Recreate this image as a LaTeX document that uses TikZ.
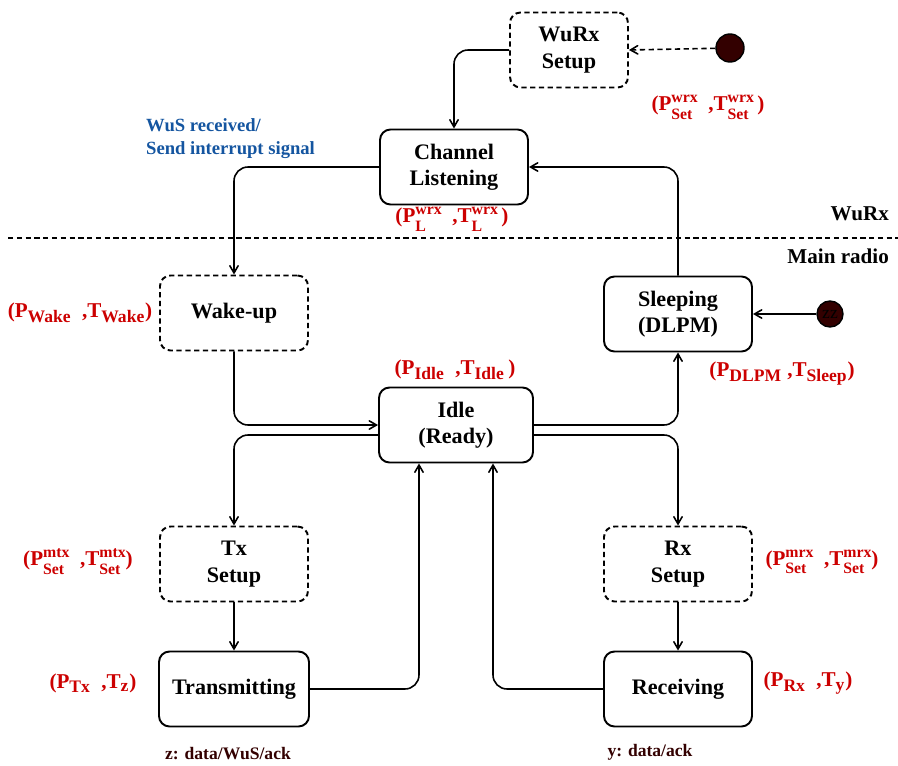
\documentclass[tikz,border=0pt]{standalone}
\usepackage{fontspec}
\setmainfont{Liberation Serif}
\usetikzlibrary{shapes,arrows,positioning}

\definecolor{lblred}{RGB}{204,0,0}
\definecolor{msgblue}{RGB}{20,85,160}
\definecolor{darkdot}{RGB}{51,0,0}

% power / time labels
\newcommand{\supsub}[3]{#1\raisebox{-0.42em}{\shortstack[l]{\small #2\\[0.5pt]\small #3}}}
\newcommand{\subonly}[2]{#1$_{\mbox{\normalsize #2}}$}

\begin{document}
\begin{tikzpicture}[
    state/.style={rectangle, draw, rounded corners=6pt, line width=1.1pt, minimum width=2.96cm, minimum height=1.5cm, align=center, font=\fontsize{12.6}{15}\selectfont\bfseries},
    setupbox/.style={state, dash pattern=on 3pt off 2pt},
    lbl/.style={text=lblred, font=\large\bfseries},
    link/.style={->, >=angle 60, line width=0.9pt, rounded corners=8pt},
    dot/.style={circle, draw, fill=darkdot, line width=0.8pt, inner sep=0pt}
]
    \useasboundingbox (0,0) rectangle (17.96,-15.30);

    % WuRx part
    \node[setupbox, minimum width=2.36cm] (wurx) at (11.38,-1.00) {WuRx \\ Setup};
    \node[dot, minimum size=0.56cm] (start) at (14.60,-0.96) {};
    \node[state] (listen) at (9.08,-3.34) {Channel \\ Listening};

    \node[lbl] (lblwurx) at (14.16,-2.14) {(\supsub{P}{wrx}{Set}\ \ ,\supsub{T}{wrx}{Set}\,)};
    \node[lbl] (lbllisten) at (9.04,-4.38) {(\supsub{P}{wrx}{L}\ \ ,\supsub{T}{wrx}{L}\,)};
    \node[anchor=west, align=left, text=msgblue, font=\fontsize{10.6}{13}\selectfont\bfseries] (wus) at (2.80,-2.78) {WuS received/ \\ Send interrupt signal};

    % border between the two radios
    \draw[line width=0.8pt, dash pattern=on 3pt off 2pt] (0.16,-4.76) coordinate (sepL) -- (17.96,-4.76) coordinate (sepR);
    \node[font=\large\bfseries, anchor=east] (wurxtxt) at (17.90,-4.28) {WuRx};
    \node[font=\large\bfseries, anchor=east] (maintxt) at (17.90,-5.12) {Main radio};

    % main radio
    \node[setupbox] (wake) at (4.68,-6.26) {Wake-up};
    \node[state] (sleep) at (13.56,-6.28) {Sleeping \\ (DLPM)};
    \node[dot, minimum size=0.52cm, font=\normalsize] (zz) at (16.60,-6.28) {zz};
    \node[state, minimum width=3.08cm] (idle) at (9.12,-8.50) {Idle \\ (Ready)};
    \node[setupbox] (txset) at (4.68,-11.28) {Tx \\ Setup};
    \node[setupbox] (rxset) at (13.56,-11.28) {Rx \\ Setup};
    \node[state, minimum width=3.0cm] (trans) at (4.68,-13.78) {Transmitting};
    \node[state] (recv) at (13.56,-13.78) {Receiving};

    \node[lbl] (lblwake) at (1.60,-6.26) {(\subonly{P}{Wake}\ \ ,\subonly{T}{Wake})};
    \node[lbl] (lblidle) at (9.10,-7.40) {(\subonly{P}{Idle}\ \ ,\subonly{T}{Idle}\,)};
    \node[lbl] (lblsleep) at (15.64,-7.48) {(\subonly{P}{DLPM}\ ,\subonly{T}{Sleep})};
    \node[lbl] (lbltxset) at (1.56,-11.24) {(\supsub{P}{mtx}{Set}\ \ ,\supsub{T}{mtx}{Set})};
    \node[lbl] (lblrxset) at (16.44,-11.24) {(\supsub{P}{mrx}{Set}\ \ ,\supsub{T}{mrx}{Set})};
    \node[lbl] (lbltrans) at (1.86,-13.66) {(\subonly{P}{Tx}\ \ ,\subonly{T}{z})};
    \node[lbl] (lblrecv) at (16.16,-13.66) {(\subonly{P}{Rx}\ \ ,\subonly{T}{y})};

    \node[text=darkdot, font=\bfseries] (ztxt) at (4.56,-15.08) {z: data/WuS/ack};
    \node[text=darkdot, font=\bfseries] (ytxt) at (13.00,-15.04) {y: data/ack};

    % transitions
    \draw[link, dash pattern=on 3pt off 2pt, rounded corners=0pt] (start) -- (wurx.east);
    \draw[link] (wurx.west) -| (listen.north);
    \draw[link] (listen.west) -| (wake.north);
    \draw[link] (sleep.north) |- (listen.east);
    \draw[link, rounded corners=0pt] (zz) -- (sleep.east);
    \draw[link] (wake.south) |- (idle.west);
    \draw[link] ([yshift=-2mm]idle.west) -| (txset.north);
    \draw[link] (idle.east) -| (sleep.south);
    \draw[link] ([yshift=-2mm]idle.east) -| (rxset.north);
    \draw[link] (txset) -- (trans);
    \draw[link] (rxset) -- (recv);
    \draw[link] (trans.east) -| ([xshift=-7.4mm]idle.south);
    \draw[link] (recv.west) -| ([xshift=7.4mm]idle.south);
\end{tikzpicture}
\end{document}
